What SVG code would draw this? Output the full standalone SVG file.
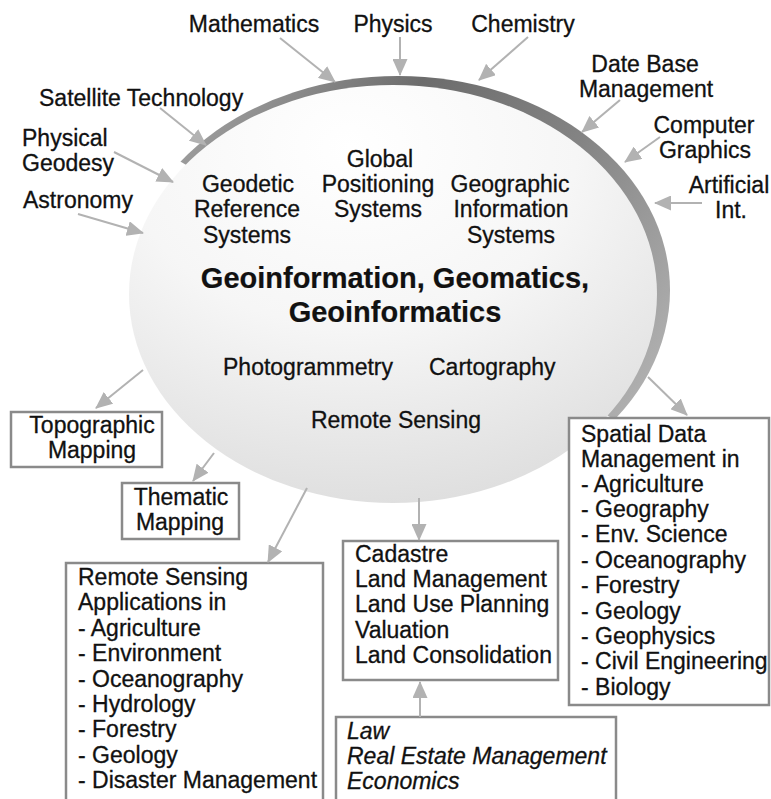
<svg xmlns="http://www.w3.org/2000/svg" width="771" height="799" viewBox="0 0 771 799">
<defs>
<style>
text{font-family:"Liberation Sans",Arial,Helvetica,sans-serif;font-size:23px;fill:#111111;stroke:#111111;stroke-width:0.3}
.c{text-anchor:middle}
.b{font-weight:bold;font-size:29px;stroke-width:0.2}
.i{font-style:italic}
.box{fill:#ffffff;stroke:#8a8a8a;stroke-width:2.5}
.ar{stroke:#b2b2b2;stroke-width:2;fill:none;marker-end:url(#ah)}
</style>
<marker id="ah" markerUnits="userSpaceOnUse" markerWidth="17" markerHeight="15" refX="16" refY="7.5" orient="auto">
<path d="M0,0 L17,7.5 L0,15 z" fill="#b2b2b2"/>
</marker>
<radialGradient id="fillG" cx="0.42" cy="0.15" r="0.95">
<stop offset="0" stop-color="#ffffff"/>
<stop offset="0.45" stop-color="#f6f6f6"/>
<stop offset="1" stop-color="#dadada"/>
</radialGradient>
<linearGradient id="bandG" gradientUnits="userSpaceOnUse" x1="190" y1="120" x2="640" y2="440">
<stop offset="0" stop-color="#a0a0a0"/>
<stop offset="0.3" stop-color="#6c6c6c"/>
<stop offset="0.6" stop-color="#848484"/>
<stop offset="1" stop-color="#b5b5b5"/>
</linearGradient>
<clipPath id="bandClip">
<polygon points="-33,34.5 831,548.5 831,-100 -33,-100"/>
</clipPath>
</defs>
<rect width="771" height="799" fill="#ffffff"/>

<g id="core">
<ellipse cx="398" cy="290" rx="272" ry="214" fill="url(#bandG)" clip-path="url(#bandClip)"/>
<ellipse cx="393" cy="294" rx="264" ry="209" fill="url(#fillG)"/>
<text class="c" x="380" y="167">Global</text>
<text class="c" x="378" y="192">Positioning</text>
<text class="c" x="378" y="217">Systems</text>
<text class="c" x="248" y="192">Geodetic</text>
<text class="c" x="247" y="217">Reference</text>
<text class="c" x="247" y="243">Systems</text>
<text class="c" x="510" y="192">Geographic</text>
<text class="c" x="511" y="217">Information</text>
<text class="c" x="511" y="243">Systems</text>
<text class="c b" x="395" y="288">Geoinformation, Geomatics,</text>
<text class="c b" x="395" y="322">Geoinformatics</text>
<text x="223" y="375">Photogrammetry</text>
<text x="429" y="375">Cartography</text>
<text class="c" x="396" y="428">Remote Sensing</text>
</g>

<g id="sources">
<text class="c" x="254" y="32">Mathematics</text>
<text class="c" x="393" y="32">Physics</text>
<text class="c" x="523" y="32">Chemistry</text>
<text class="c" x="645" y="72">Date Base</text>
<text class="c" x="646" y="97">Management</text>
<text x="39" y="106">Satellite Technology</text>
<text x="22" y="146">Physical</text>
<text x="22" y="171">Geodesy</text>
<text x="23" y="208">Astronomy</text>
<text class="c" x="704" y="133">Computer</text>
<text class="c" x="705" y="158">Graphics</text>
<text class="c" x="729" y="193">Artificial</text>
<text class="c" x="731" y="218">Int.</text>
</g>

<g id="topographic">
<rect class="box" x="11" y="412" width="151" height="55"/>
<text class="c" x="92" y="433">Topographic</text>
<text class="c" x="92" y="458">Mapping</text>
</g>

<g id="thematic">
<rect class="box" x="122" y="483" width="117" height="56"/>
<text class="c" x="181" y="505">Thematic</text>
<text class="c" x="180" y="530">Mapping</text>
</g>

<g id="rs-applications">
<rect class="box" x="66" y="563" width="257" height="250"/>
<text x="78" y="585">Remote Sensing</text>
<text x="78" y="610">Applications in</text>
<text x="78" y="636">- Agriculture</text>
<text x="78" y="661">- Environment</text>
<text x="78" y="687">- Oceanography</text>
<text x="78" y="712">- Hydrology</text>
<text x="78" y="737">- Forestry</text>
<text x="78" y="763">- Geology</text>
<text x="78" y="788">- Disaster Management</text>
</g>

<g id="cadastre">
<rect class="box" x="343" y="541" width="215" height="139"/>
<text x="355" y="562">Cadastre</text>
<text x="355" y="587">Land Management</text>
<text x="355" y="612">Land Use Planning</text>
<text x="355" y="638">Valuation</text>
<text x="355" y="663">Land Consolidation</text>
</g>

<g id="law">
<rect class="box" x="336" y="717" width="280" height="100"/>
<text class="i" x="347" y="739">Law</text>
<text class="i" x="347" y="764">Real Estate Management</text>
<text class="i" x="347" y="789">Economics</text>
</g>

<g id="spatial">
<rect class="box" x="569" y="418" width="200" height="287"/>
<text x="581" y="442">Spatial Data</text>
<text x="581" y="467">Management in</text>
<text x="581" y="492">- Agriculture</text>
<text x="581" y="517">- Geography</text>
<text x="581" y="542">- Env. Science</text>
<text x="581" y="568">- Oceanography</text>
<text x="581" y="593">- Forestry</text>
<text x="581" y="619">- Geology</text>
<text x="581" y="644">- Geophysics</text>
<text x="581" y="669">- Civil Engineering</text>
<text x="581" y="695">- Biology</text>
</g>

<g id="connectors">
<line class="ar" x1="280" y1="38" x2="335" y2="82"/>
<line class="ar" x1="400" y1="37" x2="400" y2="75"/>
<line class="ar" x1="528" y1="37" x2="479" y2="80"/>
<line class="ar" x1="160" y1="108" x2="206" y2="145"/>
<line class="ar" x1="114" y1="152" x2="173" y2="182"/>
<line class="ar" x1="78" y1="214" x2="143" y2="233"/>
<line class="ar" x1="620" y1="100" x2="582" y2="132"/>
<line class="ar" x1="660" y1="137" x2="625" y2="162"/>
<line class="ar" x1="702" y1="203" x2="655" y2="203"/>
<line class="ar" x1="143" y1="370" x2="96" y2="408"/>
<line class="ar" x1="214" y1="453" x2="193" y2="481"/>
<line class="ar" x1="307" y1="488" x2="268" y2="562"/>
<line class="ar" x1="419" y1="498" x2="419" y2="540"/>
<line class="ar" x1="648" y1="377" x2="687" y2="415"/>
<line class="ar" x1="420" y1="717" x2="420" y2="682"/>
</g>
</svg>
